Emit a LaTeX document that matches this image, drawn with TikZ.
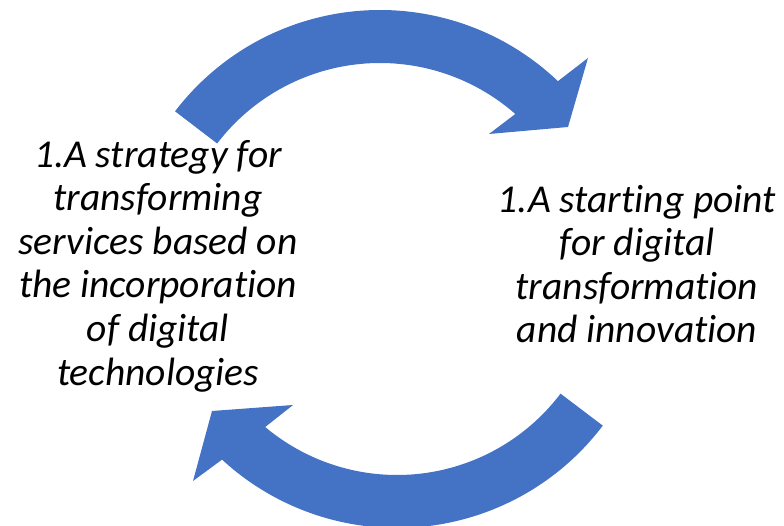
\documentclass[tikz,border=0pt]{standalone}
\usepackage{fontspec}
\setmainfont{Carlito}[RawFeature=-liga]
\usetikzlibrary{calc}

\definecolor{cycleblue}{HTML}{4472C4}

\tikzset{
  cycletext/.style={font=\fontsize{39.5}{43.6}\selectfont\itshape, align=center, inner sep=0pt},
}

\begin{document}
\begin{tikzpicture}[x=1pt,y=1pt]
\useasboundingbox (0,0) rectangle (784,526);

\coordinate (c1) at (380,258);
\coordinate (c2) at (397,256);

% upper arrow, left to right
\fill [cycleblue] ($(c1)+(142.6:258)$) arc (142.6:46.4:258) -- (588,468) -- (568,399) -- (489,392)
  -- ($(c1)+(48.7:205)$) arc (48.7:142.6:205) -- cycle;

% lower arrow, right to left
\fill [cycleblue] ($(c2)+(-37.1:258)$) arc (-37.1:-132.7:258) -- (193,45) -- (212,115) -- (293,121)
  -- ($(c2)+(-130:205)$) arc (-130:-37.1:205) -- cycle;

\node [cycletext] (strategy) at (158,260) {1.A strategy for\\transforming\\services based on\\the incorporation\\of digital\\technologies};
\node [cycletext] (start) at (637,262) {1.A starting point\\for digital\\transformation\\and innovation};
\end{tikzpicture}
\end{document}
